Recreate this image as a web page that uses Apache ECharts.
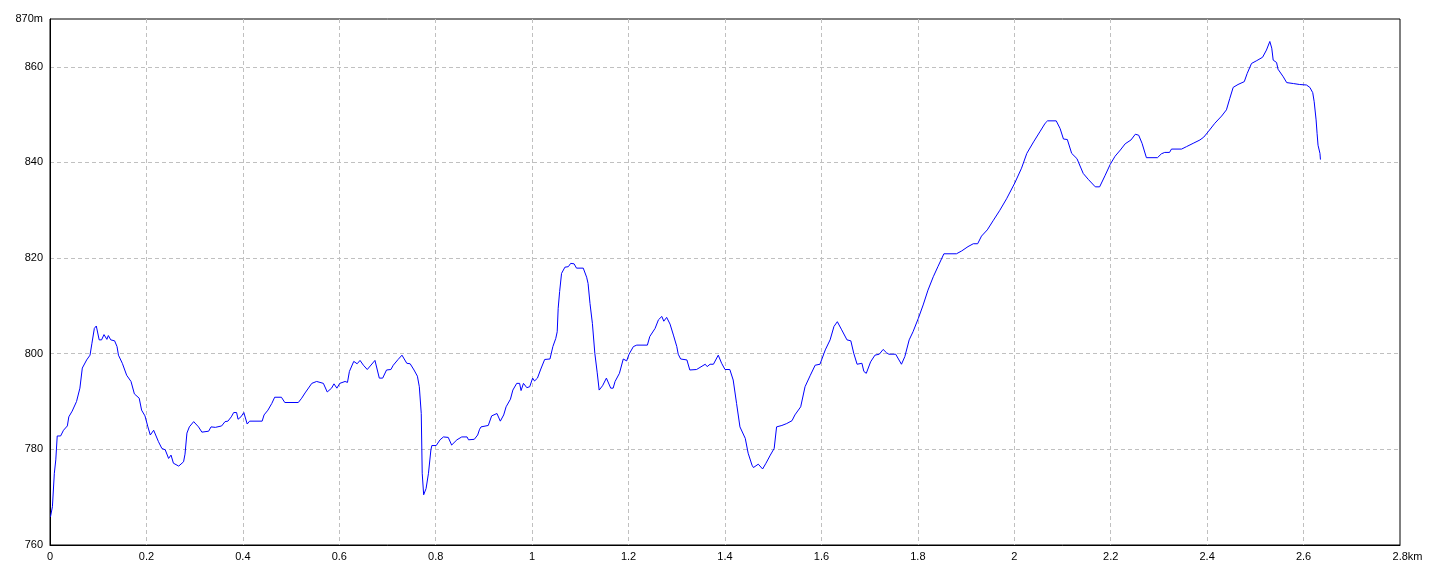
<!DOCTYPE html>
<html>
<head>
<meta charset="utf-8">
<script src="https://cdn.jsdelivr.net/npm/echarts@6/dist/echarts.min.js"></script>
<style>
html,body{margin:0;padding:0;background:#fff;}
#c{width:1440px;height:576px;}
</style>
</head>
<body>
<div id="c"></div>
<script>
// distance along track (km)
const distances = [
0.001,0.005,0.009,0.012,0.015,0.022,0.028,0.036,0.039,0.046,0.055,0.062,0.067,0.076,0.083,0.087,0.092,0.096,0.102,0.107,
0.112,0.118,0.121,0.126,0.134,0.139,0.142,0.150,0.159,0.168,0.175,0.185,0.190,0.197,0.203,0.208,0.215,0.225,0.232,0.239,
0.246,0.251,0.256,0.267,0.277,0.280,0.284,0.289,0.298,0.308,0.315,0.329,0.334,0.343,0.356,0.363,0.369,0.376,0.381,0.387,
0.390,0.396,0.402,0.409,0.414,0.440,0.444,0.452,0.460,0.466,0.480,0.487,0.515,0.522,0.529,0.543,0.553,0.567,0.575,0.584,
0.589,0.595,0.601,0.612,0.617,0.621,0.630,0.637,0.643,0.650,0.658,0.674,0.683,0.690,0.698,0.707,0.712,0.722,0.730,0.734,
0.740,0.747,0.755,0.762,0.766,0.770,0.772,0.775,0.780,0.785,0.790,0.792,0.801,0.809,0.816,0.826,0.833,0.844,0.854,0.865,
0.868,0.880,0.887,0.891,0.894,0.909,0.916,0.927,0.934,0.941,0.946,0.955,0.960,0.968,0.974,0.977,0.982,0.989,0.995,1.001,
1.005,1.011,1.018,1.026,1.037,1.043,1.049,1.052,1.054,1.057,1.061,1.068,1.075,1.080,1.087,1.092,1.106,1.113,1.116,1.120,
1.125,1.130,1.135,1.139,1.146,1.154,1.158,1.163,1.168,1.172,1.181,1.189,1.196,1.201,1.210,1.217,1.239,1.244,1.255,1.262,
1.269,1.273,1.279,1.286,1.293,1.300,1.303,1.308,1.321,1.327,1.341,1.359,1.363,1.369,1.376,1.386,1.393,1.400,1.410,1.417,
1.424,1.431,1.442,1.448,1.456,1.459,1.469,1.478,1.485,1.494,1.502,1.507,1.518,1.528,1.539,1.545,1.557,1.566,1.577,1.587,
1.597,1.608,1.618,1.626,1.633,1.642,1.653,1.661,1.667,1.674,1.684,1.688,1.693,1.702,1.711,1.720,1.728,1.735,1.740,1.754,
1.766,1.773,1.782,1.790,1.801,1.811,1.821,1.832,1.842,1.854,1.880,1.891,1.904,1.915,1.924,1.932,1.944,1.956,1.970,1.984,
2.001,2.015,2.026,2.040,2.053,2.064,2.069,2.087,2.095,2.102,2.110,2.119,2.130,2.143,2.154,2.168,2.177,2.188,2.199,2.209,
2.220,2.230,2.242,2.251,2.258,2.265,2.274,2.297,2.305,2.312,2.322,2.326,2.347,2.357,2.371,2.385,2.393,2.402,2.416,2.430,
2.440,2.447,2.454,2.464,2.477,2.483,2.492,2.503,2.515,2.523,2.530,2.534,2.537,2.544,2.547,2.558,2.565,2.579,2.592,2.606,
2.613,2.619,2.622,2.626,2.628,2.630,2.634,2.635
];
// elevation (m)
const elevations = [
765.9,768,775,777.8,782.8,782.8,784,784.9,786.8,788,790,792.8,797,798.7,799.7,802.2,805.3,805.8,802.9,802.9,
804,803,803.8,802.9,802.7,801.5,799.7,798,795.5,794.2,791.6,790.7,788.2,787,784.7,783,784,781.6,780.2,779.9,
778.1,778.8,777.1,776.5,777.4,779,783.4,784.7,785.8,784.7,783.6,783.8,784.7,784.6,784.9,785.8,785.9,786.8,787.7,787.7,
786.3,786.8,787.7,785.3,785.9,785.9,787.2,788.2,789.6,790.9,790.9,789.8,789.8,790.7,791.8,793.8,794.2,793.8,792,792.8,
793.7,792.8,793.8,794.2,794,796.3,798.4,797.9,798.6,797.6,796.7,798.6,794.9,794.9,796.6,796.7,797.6,798.8,799.7,799.7,
798,797.9,796.6,795.3,793.1,787.5,775,770.5,771.8,775,779.9,780.8,780.8,782,782.6,782.5,780.9,782,782.6,782.6,
782,782.1,783,784.2,784.7,785,787,787.5,785.9,787.2,788.9,790.5,792.4,793.8,793.8,792.3,793.8,792.9,793.1,794.9,
794.3,794.9,796.8,798.8,798.9,801.5,803.2,804.6,809.5,813,816.8,818.1,818.2,818.9,818.8,817.9,817.9,816,814.7,810.5,
806.3,800.1,796,792.4,793.3,794.9,794.5,792.8,792.8,794.2,795.9,798.9,798.5,799.9,801.5,801.8,801.8,803.6,805.3,807.1,
807.8,806.8,807.6,806.2,803.9,801.5,799.9,798.9,798.7,796.6,796.7,797.8,797.3,797.8,797.8,799.7,798,796.7,796.7,794.5,
789.6,784.7,782.3,779.2,776.7,776.2,776.9,775.9,777.1,778.8,780.2,784.7,785,785.4,786,787.2,788.9,793.1,795.5,797.6,
797.8,800.8,802.9,805.7,806.7,805,802.9,802.7,800.1,797.8,798,796.3,795.9,798.3,799.7,799.9,800.9,800.2,799.9,799.9,
797.8,799.4,802.9,804.6,807.4,810.2,813.3,816.1,818.3,820.9,820.9,821.5,822.4,823,823,824.6,825.9,827.8,830,832.4,
835.7,838.8,841.9,844.3,846.4,848.2,848.7,848.7,847.1,844.9,844.8,841.9,840.8,837.7,836.4,834.9,834.9,837.2,839.6,841.3,
842.6,843.9,844.7,845.9,845.7,844,841,841,841.8,842.1,842.1,842.8,842.8,843.3,844,844.7,845.3,846.4,848.2,849.7,
851,853.4,855.7,856.3,856.9,858.6,860.7,861.3,862,863.5,865.3,863.9,861.4,860.9,859.5,857.9,856.7,856.5,856.3,856.2,
855.7,854.6,852.7,848.9,846.1,843.6,841.9,840.6
];
// axis settings
const xMin = 0, xMax = 2.8, xStep = 0.2, xUnit = 'km';
const yMin = 760, yMax = 870, yStep = 20, yUnit = 'm';

const points = distances.map((d, i) => [d, elevations[i]]);
const FONT = "'Liberation Sans Narrow', 'Liberation Sans', sans-serif";

const chart = echarts.init(document.getElementById('c'), null, {renderer: 'canvas'});
chart.setOption({
  animation: false,
  backgroundColor: '#ffffff',
  grid: {left: 50, right: 40, top: 19, bottom: 31, show: true, borderColor: '#000', borderWidth: 1, backgroundColor: '#fff'},
  xAxis: {
    type: 'value', min: xMin, max: xMax, interval: xStep,
    axisLine: {show: true, onZero: false, lineStyle: {color: '#000', width: 1}},
    axisTick: {show: false},
    axisLabel: {
      color: '#000', fontSize: 11, fontFamily: FONT, margin: 6,
      formatter: v => Math.abs(v - xMax) < 1e-9 ? '{k|' + v + xUnit + '}' : String(Math.round(v * 10) / 10),
      rich: {k: {color: '#000', fontSize: 11, fontFamily: FONT, padding: [0, 0, 0, 15]}}
    },
    splitLine: {show: true, showMinLine: false, showMaxLine: false, lineStyle: {color: '#c0c0c0', type: [4, 3], width: 1}}
  },
  yAxis: {
    type: 'value', min: yMin, max: yMax, interval: yStep,
    axisLine: {show: true, onZero: false, lineStyle: {color: '#000', width: 1}},
    axisTick: {show: false},
    axisLabel: {
      color: '#000', fontSize: 11, fontFamily: FONT, margin: 7,
      formatter: v => v === yMax ? v + yUnit : String(v)
    },
    splitLine: {show: true, showMinLine: false, showMaxLine: false, lineStyle: {color: '#c0c0c0', type: [4, 3], width: 1}}
  },
  series: [{
    type: 'line', data: points, showSymbol: false, symbol: 'none',
    lineStyle: {color: '#0000ff', width: 1}, silent: true
  }]
});
</script>
</body>
</html>
